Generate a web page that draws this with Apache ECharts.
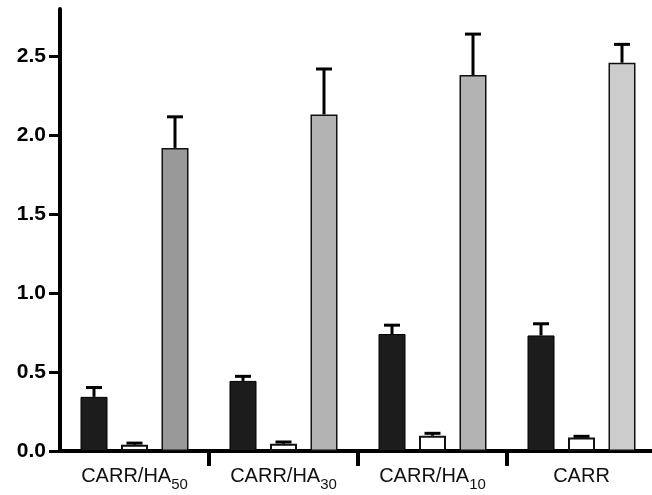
<!DOCTYPE html>
<html>
<head>
<meta charset="utf-8">
<script src="https://cdn.jsdelivr.net/npm/echarts@6/dist/echarts.min.js"></script>
<style>
  html, body { margin: 0; padding: 0; background: #fff; }
  #chart { width: 652px; height: 495px; }
</style>
</head>
<body>
<div id="chart"></div>
<script>
// Formulations on the category axis (label text, subscript part)
const groups = ['CARR/HA', 'CARR/HA', 'CARR/HA', 'CARR'];
const groupSubs = ['50', '30', '10', ''];

// Mean values per treatment
const darkValues = [0.343, 0.444, 0.741, 0.732];
const whiteValues = [0.040, 0.046, 0.097, 0.086];
const greyValues = [1.92, 2.132, 2.382, 2.46];

// Upper error (mean + SD)
const darkUpper = [0.402, 0.473, 0.797, 0.806];
const whiteUpper = [0.050, 0.057, 0.112, 0.093];
const greyUpper = [2.117, 2.42, 2.641, 2.576];

// Fill shade of the third bar in each group
const greyShades = ['#999999', '#b3b3b3', '#b3b3b3', '#cccccc'];

// Y axis range and tick values
const yMin = 0, yMax = 2.8;
const yTicks = [0, 0.5, 1.0, 1.5, 2.0, 2.5];

const BAR_W = 27;
const GAP = 0.5; // gap between bars, fraction of bar width
const FONT = 'Liberation Sans, Arial, Helvetica, sans-serif';

function errorSeries(seriesPos, means, uppers) {
  return {
    type: 'custom',
    z: 5,
    data: means.map((m, i) => [i, m, uppers[i]]),
    renderItem: function (params, api) {
      const idx = api.value(0);
      const base = api.coord([idx, api.value(1)]);
      const top = api.coord([idx, api.value(2)]);
      const offset = (seriesPos - 1) * BAR_W * (1 + GAP);
      const x = base[0] + offset;
      const capHalf = 8;
      const style = { stroke: '#000', lineWidth: 3 };
      return {
        type: 'group',
        children: [
          { type: 'line', shape: { x1: x, y1: base[1], x2: x, y2: top[1] }, style: style },
          { type: 'line', shape: { x1: x - capHalf, y1: top[1], x2: x + capHalf, y2: top[1] }, style: style }
        ]
      };
    }
  };
}

const chart = echarts.init(document.getElementById('chart'), null, { renderer: 'canvas' });

chart.setOption({
  animation: false,
  backgroundColor: '#fff',
  grid: { left: 60, width: 596, top: 9, bottom: 44, containLabel: false, outerBoundsMode: 'none' },
  xAxis: {
    type: 'category',
    data: groups.map((g, i) => i),
    boundaryGap: true,
    axisLine: { lineStyle: { color: '#000', width: 4 } },
    axisTick: {
      show: true,
      alignWithLabel: false,
      interval: function (index) { return index !== 0; },
      length: 15,
      lineStyle: { color: '#000', width: 4 }
    },
    axisLabel: {
      interval: 0,
      margin: 9,
      formatter: function (v, i) {
        const sub = groupSubs[i];
        return sub ? '{n|' + groups[i] + '}{s|' + sub + '}' : '{n|' + groups[i] + '}';
      },
      rich: {
        n: { fontFamily: FONT, fontSize: 20, color: '#111', lineHeight: 26, verticalAlign: 'bottom' },
        s: { fontFamily: FONT, fontSize: 15, color: '#111', lineHeight: 26, verticalAlign: 'bottom', padding: [0, 0, -6, 0] }
      }
    },
    splitLine: { show: false }
  },
  yAxis: {
    type: 'value',
    min: yMin,
    max: yMax,
    axisLine: { show: true, lineStyle: { color: '#000', width: 4 } },
    axisTick: { show: true, customValues: yTicks, length: 11, lineStyle: { color: '#000', width: 3 } },
    axisLabel: {
      customValues: yTicks,
      margin: 14,
      fontFamily: FONT,
      fontWeight: 'bold',
      fontSize: 21,
      color: '#000',
      formatter: function (v) { return v.toFixed(1); }
    },
    splitLine: { show: false }
  },
  series: [
    {
      type: 'bar',
      data: darkValues,
      barWidth: BAR_W,
      barGap: (GAP * 100) + '%',
      itemStyle: { color: '#1c1c1c', borderColor: '#000', borderWidth: 1 }
    },
    {
      type: 'bar',
      data: whiteValues,
      barWidth: BAR_W,
      barGap: (GAP * 100) + '%',
      itemStyle: { color: '#ffffff', borderColor: '#111', borderWidth: 2 }
    },
    {
      type: 'bar',
      data: greyValues.map((v, i) => ({ value: v, itemStyle: { color: greyShades[i] } })),
      barWidth: BAR_W,
      barGap: (GAP * 100) + '%',
      itemStyle: { borderColor: '#111', borderWidth: 1.5 }
    },
    errorSeries(0, darkValues, darkUpper),
    errorSeries(1, whiteValues, whiteUpper),
    errorSeries(2, greyValues, greyUpper)
  ]
});
</script>
</body>
</html>
